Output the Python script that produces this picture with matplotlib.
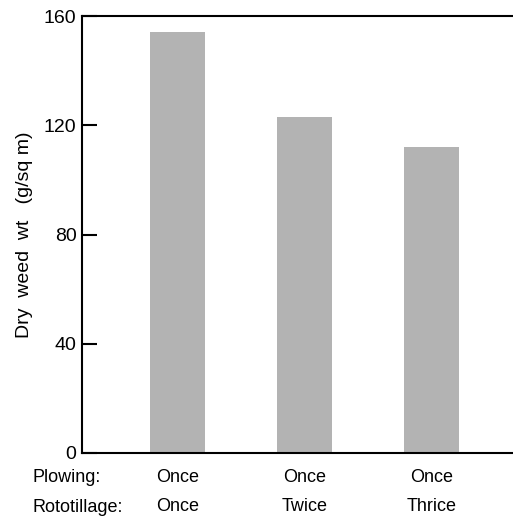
import matplotlib.pyplot as plt
import numpy as np

plt.rcParams['font.family'] = ['Liberation Sans', 'DejaVu Sans']

# data
plowing = ['Once', 'Once', 'Once']
rototillage = ['Once', 'Twice', 'Thrice']
dry_weed = [154, 123, 112]
yticks = [0, 40, 80, 120, 160]

x = np.arange(len(dry_weed))

fig = plt.figure(figsize=(5.13, 5.18), dpi=100)
ax = fig.add_axes([0.160, 0.1255, 0.840, 0.8435])

ax.bar(x, dry_weed, width=0.43, color='#b3b3b3', edgecolor='none')

ax.set_xlim(-0.75, 2.64)
ax.set_ylim(0, 160)
ax.set_yticks(yticks)
ax.set_yticklabels([str(v) for v in yticks], fontsize=14)
ax.tick_params(axis='y', direction='in', length=11, width=1.5, pad=4)
ax.set_xticks([])

ax.spines['right'].set_visible(False)
for s in ['left', 'top', 'bottom']:
    ax.spines[s].set_linewidth(1.5)

ax.set_ylabel('Dry  weed  wt   (g/sq m)', fontsize=14, labelpad=8)

# two-row category labels under the bars
tr = ax.get_xaxis_transform()
fig.text(33 / 513, 1 - 478 / 518, 'Plowing:', fontsize=13, va='center', ha='left')
fig.text(32 / 513, 1 - 507 / 518, 'Rototillage:', fontsize=13, va='center', ha='left')
for xi, p, r in zip(x, plowing, rototillage):
    ax.text(xi, -25 / 437, p, transform=tr, fontsize=13, ha='center', va='center')
    ax.text(xi, -54 / 437, r, transform=tr, fontsize=13, ha='center', va='center')

fig.savefig('out.png', dpi=100)
